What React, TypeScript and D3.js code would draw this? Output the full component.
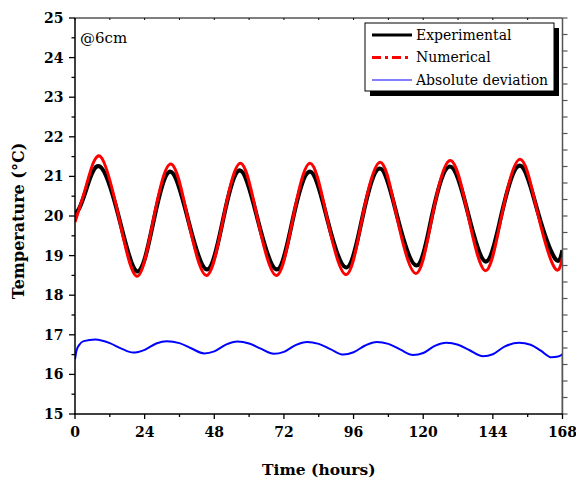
import React from "react";
import * as d3 from "d3";

const W = 576;
const H = 487;

// Experimental temperature (°C) vs time (hours)
const expTime = [0, 1.5, 4, 8.6, 15, 21.4, 27, 32.8, 39, 45.5, 51, 56.8, 63, 69.6, 75, 81, 87, 93.6, 99, 105, 111, 117.7, 123, 129.2, 135.5, 141.6, 147, 153.3, 159.5, 165.5, 168];
const expTemp = [20.05, 20.2, 20.7, 21.25, 20.0, 18.6, 19.85, 21.12, 19.9, 18.65, 19.9, 21.15, 19.9, 18.65, 19.9, 21.12, 19.9, 18.7, 19.95, 21.2, 20.0, 18.75, 20.0, 21.25, 20.05, 18.85, 20.05, 21.27, 20.1, 18.92, 19.14];

// Numerical temperature
const numTime = [0, 4, 8.8, 15, 21.3, 27, 33, 39, 45.3, 51, 57, 63, 69.4, 75, 81, 87, 93.5, 99, 105.2, 111, 117.5, 123, 129.3, 135.5, 141.5, 147, 153.4, 159.5, 165.3, 168];
const numTemp = [19.85, 20.8, 21.5, 20.0, 18.48, 19.9, 21.31, 19.9, 18.5, 19.9, 21.33, 19.9, 18.5, 19.9, 21.33, 19.9, 18.52, 19.95, 21.36, 19.95, 18.55, 19.95, 21.4, 20.0, 18.62, 20.0, 21.43, 20.05, 18.69, 18.96];

// Absolute deviation
const devTime = [0, 0.5, 1.5, 3, 7, 12, 16, 20, 24, 28, 31.6, 36, 40, 44.5, 48, 52, 56, 60, 64, 68.5, 72, 76, 80, 84, 88, 92.5, 96, 100, 104, 108, 112, 116.5, 120, 124, 128, 132, 136, 140.6, 144, 148, 153, 157, 160.5, 164.2, 166.5, 168];
const devVal = [16.38, 16.6, 16.75, 16.84, 16.88, 16.79, 16.65, 16.55, 16.62, 16.78, 16.84, 16.79, 16.66, 16.53, 16.58, 16.75, 16.83, 16.78, 16.65, 16.52, 16.57, 16.74, 16.82, 16.77, 16.64, 16.5, 16.56, 16.73, 16.82, 16.77, 16.63, 16.49, 16.54, 16.72, 16.8, 16.75, 16.61, 16.46, 16.51, 16.7, 16.8, 16.75, 16.6, 16.43, 16.45, 16.51];
const devEndDrop = 15;

const xTicks = [0, 24, 48, 72, 96, 120, 144, 168];
const yTicks = [15, 16, 17, 18, 19, 20, 21, 22, 23, 24, 25];
const legendLabels = ["Experimental", "Numerical", "Absolute deviation"];
const annotation = "@6cm";

const FONT = "DejaVu Serif";

export default function App() {
  const x = d3.scaleLinear().domain([0, 168]).range([75, 562.5]);
  const y = d3.scaleLinear().domain([15, 25]).range([414, 18]);
  const yRight = d3.scaleLinear().domain([0, 24]).range([414, 18]);

  const tempLine = d3
    .line<[number, number]>()
    .x((d) => x(d[0]))
    .y((d) => y(d[1]))
    .curve(d3.curveNatural);
  const devLine = d3
    .line<[number, number]>()
    .x((d) => x(d[0]))
    .y((d) => y(d[1]))
    .curve(d3.curveMonotoneX);

  const expPts = expTime.map((t, i) => [t, expTemp[i]] as [number, number]);
  const numPts = numTime.map((t, i) => [t, numTemp[i]] as [number, number]);
  const devPts = devTime.map((t, i) => [t, devVal[i]] as [number, number]);
  const lastDev = devPts[devPts.length - 1];

  const [x0, x1] = x.range();
  const [yb, yt] = y.range();

  const xMinor = d3.range(0, 169, 12);
  const yMinor = d3.range(15, 25.01, 0.5);
  const rightTicks = d3.range(0, 25, 1);

  const lx = 365, ly = 23, lw = 189, lh = 68;
  const rows = [35, 57.5, 80];

  return (
    <svg width={W} height={H} style={{ position: "absolute", left: 0, top: 0, background: "#fff" }}>
      <defs>
        <clipPath id="plotclip">
          <rect x={x0} y={yt} width={x1 - x0} height={yb - yt} />
        </clipPath>
      </defs>
      {/* data */}
      <g clipPath="url(#plotclip)">
        <path d={tempLine(expPts) || ""} fill="none" stroke="#000" strokeWidth={4.2} />
        <path d={tempLine(numPts) || ""} fill="none" stroke="#ff0000" strokeWidth={3} />
        <path d={devLine(devPts) || ""} fill="none" stroke="#0000ff" strokeWidth={2} />
        <line x1={x(lastDev[0])} x2={x(lastDev[0])} y1={y(lastDev[1])} y2={y(devEndDrop)} stroke="#000080" strokeWidth={1.5} />
      </g>

      {/* top axis */}
      <line x1={x0} x2={x1} y1={yt} y2={yt} stroke="#000" strokeWidth={1.2} />
      {xMinor.map((t) => (
        <line key={"tt" + t} x1={x(t)} x2={x(t)} y1={yt} y2={yt + 2} stroke="#000" strokeWidth={1} />
      ))}
      {/* right axis */}
      <line x1={x1} x2={x1} y1={yt} y2={yb} stroke="#555" strokeWidth={1.5} />
      {rightTicks.map((v) => (
        <line key={"rt" + v} x1={x1} x2={x1 + 5} y1={yRight(v)} y2={yRight(v)} stroke="#555" strokeWidth={1.2} />
      ))}
      {/* bottom axis */}
      <line x1={x0 - 1} x2={x1} y1={yb} y2={yb} stroke="#000" strokeWidth={1.5} />
      {xMinor.map((t) => (
        <line key={"bx" + t} x1={x(t)} x2={x(t)} y1={yb} y2={yb + (t % 24 === 0 ? 5 : 3)} stroke="#000" strokeWidth={1.3} />
      ))}
      {xTicks.map((t) => (
        <text key={"xl" + t} x={x(t)} y={437} textAnchor="middle" fontFamily={FONT} fontWeight="bold" fontSize={14}>
          {t}
        </text>
      ))}
      {/* left axis */}
      <line x1={x0} x2={x0} y1={yt} y2={yb} stroke="#000" strokeWidth={1.5} />
      {yMinor.map((v) => (
        <line key={"ly" + v} x1={x0} x2={x0 - (Math.abs(v - Math.round(v)) < 1e-6 ? 6 : 3.5)} y1={y(v)} y2={y(v)} stroke="#000" strokeWidth={1.3} />
      ))}
      {yTicks.map((v) => (
        <text key={"yl" + v} x={63.5} y={y(v)} dy="0.36em" textAnchor="end" fontFamily={FONT} fontWeight="bold" fontSize={14}>
          {v}
        </text>
      ))}

      {/* axis titles */}
      <text x={(x0 + x1) / 2} y={475} textAnchor="middle" fontFamily={FONT} fontWeight="bold" fontSize={15.5}>
        Time (hours)
      </text>
      <text transform={`translate(24, 221) rotate(-90)`} textAnchor="middle" fontFamily={FONT} fontWeight="bold" fontSize={16}>
        Temperature (°C)
      </text>

      {/* annotation */}
      <text x={80} y={43} fontFamily={FONT} fontSize={15}>
        {annotation}
      </text>

      {/* legend */}
      <rect x={lx + 5} y={ly + 5} width={lw} height={lh} fill="#000" />
      <rect x={lx} y={ly} width={lw} height={lh} fill="#fff" stroke="#000" strokeWidth={1} />
      <line x1={372} x2={412} y1={rows[0]} y2={rows[0]} stroke="#000" strokeWidth={3} />
      <line x1={372} x2={412} y1={rows[1]} y2={rows[1]} stroke="#ff0000" strokeWidth={3} strokeDasharray="9,4,3,4" />
      <line x1={372} x2={412} y1={rows[2]} y2={rows[2]} stroke="#0000ff" strokeWidth={1} />
      {legendLabels.map((s, i) => (
        <text key={s} x={416} y={rows[i]} dy="0.33em" fontFamily={FONT} fontSize={14}>
          {s}
        </text>
      ))}
    </svg>
  );
}
